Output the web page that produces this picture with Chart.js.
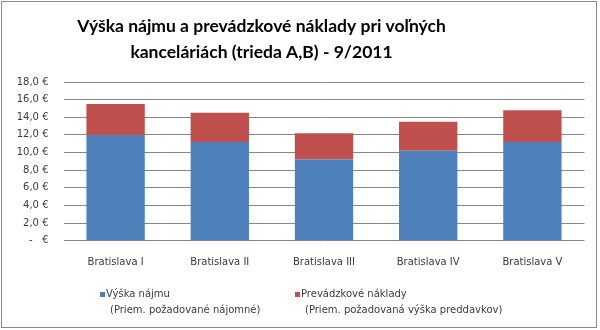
<!DOCTYPE html>
<html>
<head>
<meta charset="utf-8">
<script src="https://cdn.jsdelivr.net/npm/chart.js@4/dist/chart.umd.min.js"></script>
<style>
  html, body { margin: 0; padding: 0; background: #ffffff; }
  #wrap { width: 600px; height: 330px; }
</style>
</head>
<body>
<div id="wrap"><canvas id="c" width="600" height="330"></canvas></div>
<script>
// ---- data ----
const titleLines = ['Výška nájmu a prevádzkové náklady pri voľných', 'kanceláriách (trieda A,B) - 9/2011'];
const categories = ['Bratislava I', 'Bratislava II', 'Bratislava III', 'Bratislava IV', 'Bratislava V'];
const rentValues = [12.0, 11.2, 9.2, 10.2, 11.2];
const costValues = [3.5, 3.3, 3.0, 3.3, 3.6];
const rentLabel = ['Výška nájmu', '(Priem. požadované nájomné)'];
const costLabel = ['Prevádzkové náklady', '(Priem. požadovaná výška preddavkov)'];
const yMin = 0, yMax = 18, yStep = 2;

const FONT = "'DejaVu Sans', Verdana, sans-serif";
const TEXT = '#3a3a3a';

// legend layout (box x positions for each series)
const legendBoxX = [100, 295];

const framePlugin = {
  id: 'frame',
  beforeDraw(chart) {
    const ctx = chart.ctx;
    ctx.save();
    ctx.fillStyle = '#ffffff';
    ctx.fillRect(0, 0, chart.width, chart.height);
    ctx.restore();
  },
  afterDraw(chart) {
    const ctx = chart.ctx;
    ctx.save();
    // frame
    ctx.strokeStyle = '#8a8a8a';
    ctx.lineWidth = 1;
    ctx.strokeRect(1.5, 1.5, 595, 326);
    // title
    ctx.fillStyle = '#000000';
    ctx.font = "bold 17.5px Lato, 'Open Sans', sans-serif";
    ctx.textAlign = 'center';
    ctx.textBaseline = 'alphabetic';
    ctx.fillText(titleLines[0], 261.5, 31.7);
    ctx.fillText(titleLines[1], 261.5, 57.7);
    // legend
    ctx.font = "10px " + FONT;
    ctx.textAlign = 'left';
    ctx.textBaseline = 'middle';
    chart.data.datasets.forEach((ds, i) => {
      const bx = legendBoxX[i];
      ctx.fillStyle = ds.backgroundColor;
      ctx.fillRect(bx, 292, 5, 5);
      ctx.fillStyle = TEXT;
      const lines = Array.isArray(ds.label) ? ds.label : [ds.label];
      lines.forEach((ln, j) => {
        ctx.fillText(ln, bx + (j === 0 ? 6 : 10), 294.5 + j * 15.5);
      });
    });
    ctx.restore();
  }
};

new Chart(document.getElementById('c'), {
  type: 'bar',
  data: {
    labels: categories,
    datasets: [
      { label: rentLabel, data: rentValues, backgroundColor: '#4F81BD', borderWidth: 0 },
      { label: costLabel, data: costValues, backgroundColor: '#C0504D', borderWidth: 0 }
    ]
  },
  options: {
    responsive: false,
    animation: false,
    devicePixelRatio: 1,
    layout: { padding: { top: 82, right: 15.5, left: 0, bottom: 49.3 } },
    datasets: { bar: { barPercentage: 0.56, categoryPercentage: 1.0 } },
    scales: {
      x: {
        stacked: true,
        grid: { display: false, drawTicks: false },
        border: { display: false },
        ticks: { font: { family: FONT, size: 10 }, color: TEXT, padding: 16, maxRotation: 0 },
        afterFit(scale) { scale.height = 40; }
      },
      y: {
        stacked: true,
        min: yMin, max: yMax,
        grid: { color: '#878787', lineWidth: 1, drawTicks: false },
        border: { display: false },
        ticks: {
          stepSize: yStep,
          padding: 15,
          font: { family: FONT, size: 10 },
          color: TEXT,
          callback: (v) => v === 0 ? '-   €' : v.toFixed(1).replace('.', ',') + ' €'
        },
        afterFit(scale) { scale.width = 63.5; }
      }
    },
    plugins: {
      title: { display: false },
      tooltip: { enabled: false },
      legend: { display: false }
    }
  },
  plugins: [framePlugin]
});
</script>
</body>
</html>
